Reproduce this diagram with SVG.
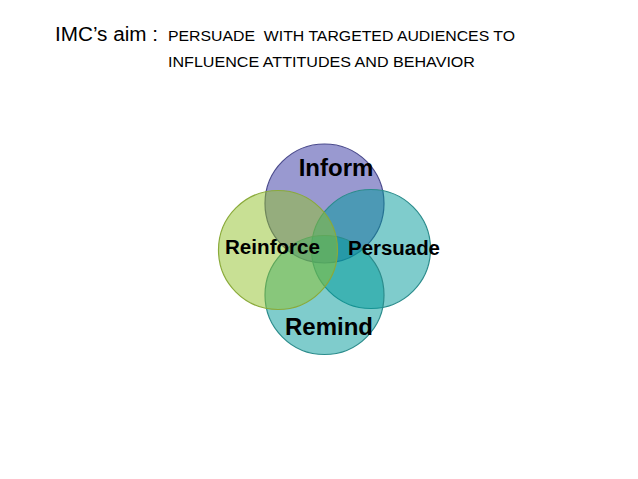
<svg xmlns="http://www.w3.org/2000/svg" width="638" height="479" viewBox="0 0 638 479">
<style>
.t{font-family:"Liberation Sans",Arial,sans-serif;fill:#000;white-space:pre}
.lbl{font-family:"Liberation Sans",Arial,sans-serif;font-weight:bold;fill:#000;text-anchor:middle}
.c{fill-opacity:0.5;stroke-width:1.2}
</style>
<rect width="638" height="479" fill="#fff"/>
<g id="title">
<text class="t" x="55" y="41" font-size="19.5" textLength="103" lengthAdjust="spacingAndGlyphs">IMC’s aim :</text>
<text class="t" x="168" y="41" font-size="14.5" textLength="347" lengthAdjust="spacingAndGlyphs" xml:space="preserve">PERSUADE  WITH TARGETED AUDIENCES TO</text>
<text class="t" x="168" y="67" font-size="14.5" textLength="307" lengthAdjust="spacingAndGlyphs">INFLUENCE ATTITUDES AND BEHAVIOR</text>
</g>
<g id="inform"><circle class="c" cx="324.5" cy="203.5" r="59.5" fill="#3333a1" stroke="#4a4a8c"/></g>
<g id="persuade"><circle class="c" cx="371" cy="249" r="59.5" fill="#009999" stroke="#2b8c8c"/></g>
<g id="remind"><circle class="c" cx="324.5" cy="295" r="59.5" fill="#009999" stroke="#2b8c8c"/></g>
<g id="reinforce"><circle class="c" cx="278" cy="250" r="59.5" fill="#91c129" stroke="#8aaa3a"/></g>
<g id="labels">
<text class="lbl" x="336" y="176" font-size="24">Inform</text>
<text class="lbl" x="272.5" y="254" font-size="20" textLength="95" lengthAdjust="spacingAndGlyphs">Reinforce</text>
<text class="lbl" x="394" y="255" font-size="20" textLength="92" lengthAdjust="spacingAndGlyphs">Persuade</text>
<text class="lbl" x="329" y="335" font-size="24">Remind</text>
</g>
</svg>
